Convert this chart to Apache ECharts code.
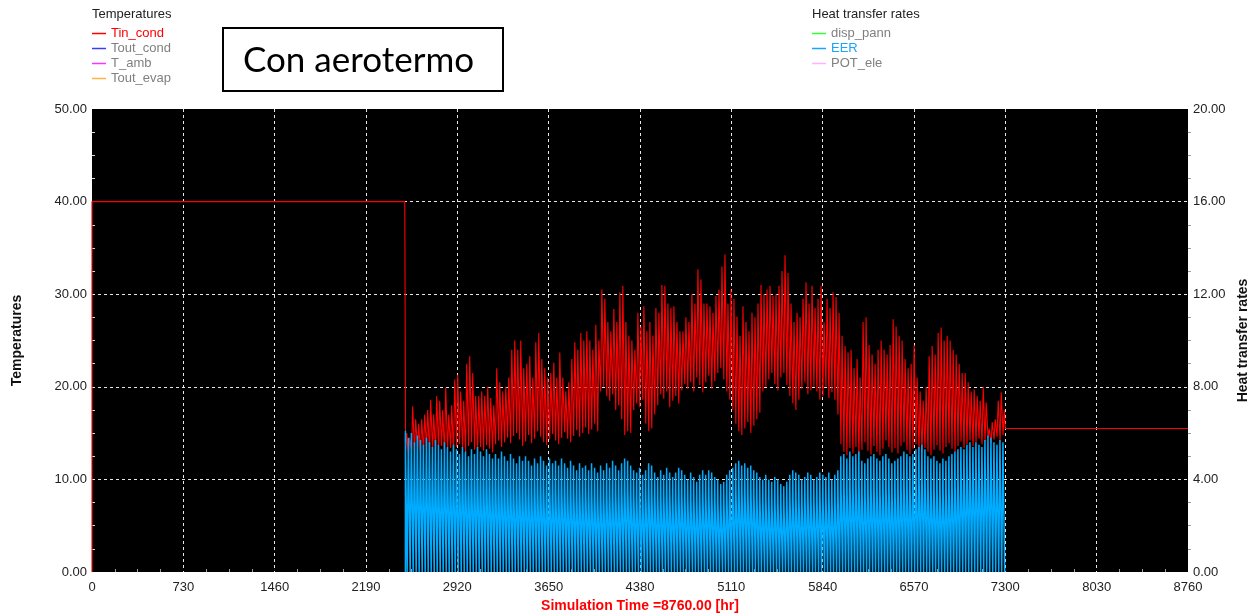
<!DOCTYPE html>
<html>
<head>
<meta charset="utf-8">
<script src="https://cdn.jsdelivr.net/npm/echarts@6/dist/echarts.min.js"></script>
<style>
  html, body { margin: 0; padding: 0; background: #ffffff; }
  #chart { width: 1254px; height: 616px; }
</style>
</head>
<body>
<div id="chart"></div>
<script>
// Simulation time axis (hours), one tick per 730 h
const timeTicks = [0, 730, 1460, 2190, 2920, 3650, 4380, 5110, 5840, 6570, 7300, 8030, 8760];

// Heating season: first operating day starts at this hour, one entry per day below
const seasonStartHour = 2500;
// Tin_cond held outside the season
const tinBeforeSeason = 40;
const tinAfterSeason = 15.5;

// Tin_cond daily maxima [°C]
const tinHigh = [
  15, 14.5, 17.9, 16.5, 16, 16.5, 17, 17.5, 18.6, 17,
  19, 18.5, 17.5, 19.9, 17, 18, 20.8, 21.3, 19.5, 18.5,
  22.5, 23.3, 21.5, 19, 19, 19.5, 19, 20, 18.8, 18,
  22, 20.5, 19.5, 20, 21, 24, 25, 24, 25, 22,
  22.5, 23.3, 21, 24.8, 25.8, 23, 22, 21, 21.5, 22.6,
  21, 23.7, 21, 19.5, 20.5, 23, 24.8, 24, 25.8, 25,
  26, 25, 24, 26.7, 25, 30.5, 29.5, 27, 26, 28.4,
  27, 30.2, 30.9, 27, 25.5, 25, 24, 28, 26.5, 28.7,
  26, 27, 25.5, 28.5, 28, 31, 30.9, 29, 28.5, 28.7,
  27, 26, 26, 27.5, 27, 30, 29, 32.7, 31.6, 29,
  29, 28.7, 28, 29.8, 30.5, 33, 34.3, 29, 30.5, 29.5,
  27.6, 25.5, 28.7, 27, 26, 28, 27.5, 29, 31, 30,
  30.5, 30.9, 29.8, 30, 30.9, 32.5, 34.2, 32.3, 29, 27,
  28, 27.5, 29.5, 31.3, 29, 30.9, 28.5, 29.5, 30.9, 27,
  29.5, 28.5, 30.2, 29.7, 28, 25.5, 24.4, 23.7, 24, 22,
  23, 21, 27, 27.5, 24.5, 23.5, 22.5, 24, 25, 24,
  23.5, 24.5, 27.3, 26.5, 25.5, 25, 23, 22, 22.5, 24.5,
  21, 19.5, 18.5, 20, 23.3, 24.4, 23.5, 25.8, 26.4, 25,
  25.5, 25, 24, 23.5, 22.5, 21.5, 21.5, 20.5, 19.5, 19.7,
  19, 18.5, 20, 18.3, 15.5, 16.2, 16.5, 18.5, 19.4, 17.5
];

// Tin_cond daily minima [°C]
const tinLow = [
  13, 12.5, 13, 12.8, 13.2, 12.6, 13, 13.4, 12.8, 13.1,
  12.9, 13.3, 13.6, 12.7, 13, 13.4, 12.8, 13.5, 13.8, 13.1,
  12.9, 13.6, 14, 13.2, 12.8, 13.5, 13.1, 13.7, 13.3, 12.9,
  13.8, 14.2, 13.5, 14, 14.5, 13.9, 14.7, 15, 14.3, 13.6,
  14.1, 14.8, 13.9, 14.4, 15.2, 14.6, 14, 13.7, 14.3, 14.9,
  14.2, 13.8, 14.5, 15.1, 14.4, 14, 14.7, 15.3, 14.6, 15,
  15.6, 14.9, 15.4, 16, 15.2, 19.5, 20, 19, 18.5, 19.2,
  17.5, 18, 16.5, 14.8, 15.2, 15, 17.5, 18.2, 17.8, 18.6,
  16, 15.2, 15.5, 17, 18, 19.2, 18.7, 19.5, 17.8, 18.5,
  19, 18.2, 19.6, 20.3, 19.8, 20.5, 19.5, 21, 20.2, 19.4,
  20.5, 21.2, 19.8, 20.6, 21.5, 22, 20.8, 19.5, 18.6, 17.5,
  16, 15.2, 14.8, 15.5, 16.2, 15, 15.8, 16.5, 17.2, 19.5,
  20, 20.8, 21.5, 20.3, 19.6, 21, 21.5, 20.2, 19, 18.2,
  17.5, 18.6, 19.8, 20.5, 19.2, 19.6, 20, 19.5, 18.6, 19,
  20, 18.8, 19.4, 18.6, 17, 13.8, 13, 12.6, 13.4, 12.8,
  13.5, 12.5, 13.2, 14, 13.1, 12.7, 13.6, 13, 12.6, 13.3,
  14.2, 13.5, 12.9, 13.4, 12.8, 13.6, 14, 13.2, 12.7, 13.3,
  13.8, 13.1, 12.9, 13.4, 13, 12.6, 13.2, 13.7, 13.1, 12.8,
  13.5, 13.9, 13.3, 13, 13.6, 14.1, 13.4, 13.8, 14.2, 13.6,
  14, 14.4, 13.8, 14.1, 14.5, 13.9, 14.3, 14.6, 14.2, 14.8
];

// EER start-up peak of each day
const eerPeak = [
  6.1, 5.8, 6.0, 5.6, 5.9, 5.7, 5.5, 5.8, 5.6, 5.4,
  5.7, 5.5, 5.3, 5.6, 5.4, 5.2, 5.5, 5.3, 5.1, 5.4,
  5.2, 5.0, 5.3, 5.1, 5.4, 5.2, 5.0, 5.3, 5.1, 4.9,
  5.1, 4.9, 5.2, 5.0, 4.8, 5.1, 4.9, 4.7, 5.0, 4.8,
  5.0, 4.8, 4.6, 4.9, 4.7, 5.0, 4.8, 4.6, 4.9, 4.7,
  4.8, 4.6, 4.9, 4.7, 4.5, 4.8, 4.6, 4.4, 4.7, 4.5,
  4.6, 4.4, 4.7, 4.5, 4.3, 4.6, 4.4, 4.7, 4.5, 4.8,
  4.6, 4.4, 4.7, 4.9, 4.8, 4.6, 4.4, 4.3, 4.5, 4.2,
  4.4, 4.7, 4.6, 4.3, 4.1, 4.4, 4.2, 4.5, 4.3, 4.1,
  4.3, 4.5, 4.4, 4.2, 4.0, 4.3, 4.1, 3.9, 4.2, 4.4,
  4.2, 4.4, 4.3, 4.1, 4.0, 3.8, 3.9, 4.2, 4.4, 4.5,
  4.7, 4.8, 4.6, 4.7, 4.5, 4.6, 4.4, 4.3, 4.1, 4.0,
  4.2, 4.0, 3.9, 4.1, 4.0, 3.8, 3.7, 3.9, 4.2, 4.4,
  4.3, 4.2, 4.0, 4.1, 4.3, 4.2, 4.0, 4.1, 4.3, 4.2,
  4.1, 4.3, 4.0, 4.2, 4.4, 5.0, 5.1, 4.9, 5.2, 5.0,
  5.1, 5.2, 4.8, 4.7, 4.9, 5.0, 5.1, 4.9, 4.8, 5.0,
  5.1, 4.9, 4.7, 4.8, 4.9, 5.0, 5.2, 5.1, 5.0, 5.1,
  5.3, 5.4, 5.5, 5.3, 5.0, 4.9, 5.0, 4.8, 4.7, 4.9,
  4.8, 5.0, 5.1, 5.2, 5.3, 5.4, 5.3, 5.5, 5.6, 5.4,
  5.6, 5.5, 5.4, 5.7, 5.9, 5.8, 5.6, 5.5, 5.7, 5.6
];

// EER steady running level of each day
const eerLevel = [
  4.7, 4.6, 4.7, 4.5, 4.6, 4.5, 4.4, 4.6, 4.5, 4.3,
  4.4, 4.3, 4.2, 4.4, 4.3, 4.2, 4.3, 4.1, 4.2, 4.3,
  4.1, 4.0, 4.2, 4.1, 4.2, 4.0, 4.1, 4.2, 4.0, 3.9,
  4.0, 3.9, 4.0, 3.8, 3.9, 3.9, 3.7, 3.8, 3.9, 3.7,
  3.8, 3.7, 3.6, 3.8, 3.7, 3.8, 3.6, 3.5, 3.7, 3.6,
  3.6, 3.5, 3.7, 3.6, 3.4, 3.6, 3.5, 3.4, 3.5, 3.4,
  3.5, 3.3, 3.4, 3.3, 3.2, 3.3, 3.2, 3.4, 3.3, 3.3,
  3.4, 3.3, 3.5, 3.6, 3.6, 3.5, 3.3, 3.2, 3.4, 3.2,
  3.3, 3.5, 3.4, 3.3, 3.2, 3.3, 3.2, 3.4, 3.3, 3.1,
  3.2, 3.4, 3.3, 3.2, 3.1, 3.2, 3.1, 3.0, 3.1, 3.3,
  3.2, 3.3, 3.2, 3.1, 3.0, 2.9, 3.0, 3.2, 3.3, 3.4,
  3.5, 3.6, 3.5, 3.5, 3.4, 3.5, 3.3, 3.2, 3.1, 3.0,
  3.1, 3.0, 2.9, 3.0, 3.0, 2.9, 2.8, 2.9, 3.1, 3.2,
  3.2, 3.1, 3.0, 3.1, 3.2, 3.1, 3.0, 3.1, 3.2, 3.1,
  3.1, 3.2, 3.0, 3.1, 3.3, 3.6, 3.7, 3.5, 3.7, 3.6,
  3.7, 3.7, 3.4, 3.4, 3.5, 3.6, 3.6, 3.5, 3.4, 3.5,
  3.6, 3.5, 3.3, 3.4, 3.5, 3.6, 3.7, 3.6, 3.5, 3.6,
  3.8, 3.9, 4.0, 3.8, 3.6, 3.5, 3.5, 3.4, 3.3, 3.4,
  3.4, 3.5, 3.6, 3.7, 3.8, 4.2, 4.2, 4.3, 4.4, 4.3,
  4.4, 4.4, 4.3, 4.5, 4.7, 4.6, 4.5, 4.4, 4.6, 4.5
];

// Hour-of-day at which each daily value is reached
const HOURS_PER_DAY = 24;
const tinLowAt = 6, tinHighAt = 15;
const eerOnAt = 5, eerSettleAt = 7, eerOffAt = 19;

// Tin_cond time series
const tinSeries = [[0, 0], [0, tinBeforeSeason], [seasonStartHour, tinBeforeSeason]];
tinLow.forEach((lo, d) => {
  const t = seasonStartHour + d * HOURS_PER_DAY;
  tinSeries.push([t + tinLowAt, lo], [t + tinHighAt, tinHigh[d]]);
});
const seasonEndHour = seasonStartHour + tinLow.length * HOURS_PER_DAY;
tinSeries.push([seasonEndHour, tinAfterSeason], [8760, tinAfterSeason]);

// EER time series (zero while the unit is off)
const eerSeries = [];
eerPeak.forEach((pk, d) => {
  const t = seasonStartHour + d * HOURS_PER_DAY;
  eerSeries.push([t + eerOnAt, 0], [t + eerOnAt, pk], [t + eerSettleAt, eerLevel[d]],
                 [t + eerOffAt, eerLevel[d]], [t + eerOffAt, 0]);
});

const FONT = 'Liberation Sans, Arial, sans-serif';
const fixed2 = v => v.toFixed(2);

const chart = echarts.init(document.getElementById('chart'), null, { renderer: 'canvas' });

chart.setOption({
  animation: false,
  backgroundColor: '#ffffff',
  title: [
    { text: 'Temperatures', left: 92, top: 8, padding: 0,
      textStyle: { fontFamily: FONT, fontSize: 13, fontWeight: 'normal', color: '#222222' } },
    { text: 'Heat transfer rates', left: 812, top: 8, padding: 0,
      textStyle: { fontFamily: FONT, fontSize: 13, fontWeight: 'normal', color: '#222222' } }
  ],
  legend: [
    {
      orient: 'vertical', left: 92, top: 27, padding: 0,
      icon: 'rect', itemWidth: 14, itemHeight: 1.5, itemGap: 2,
      selectedMode: false,
      textStyle: { fontFamily: FONT, fontSize: 13, color: '#808080' },
      data: [
        { name: 'Tin_cond', textStyle: { color: '#ff0000' } },
        'Tout_cond', 'T_amb', 'Tout_evap'
      ]
    },
    {
      orient: 'vertical', left: 812, top: 27, padding: 0,
      icon: 'rect', itemWidth: 14, itemHeight: 1.5, itemGap: 2,
      selectedMode: false,
      textStyle: { fontFamily: FONT, fontSize: 13, color: '#808080' },
      data: [
        'disp_pann',
        { name: 'EER', textStyle: { color: '#1aa3ff' } },
        'POT_ele'
      ]
    }
  ],
  grid: {
    left: 92, right: 66, top: 109, bottom: 44,
    outerBoundsMode: 'none', containLabel: false,
    show: true, backgroundColor: '#000000', borderWidth: 0
  },
  xAxis: {
    type: 'value', min: timeTicks[0], max: timeTicks[timeTicks.length - 1], interval: 730,
    name: 'Simulation Time =8760.00 [hr]', nameLocation: 'middle', nameGap: 26,
    nameTextStyle: { fontFamily: FONT, fontSize: 14, fontWeight: 'bold', color: '#ff0000' },
    axisLine: { show: false },
    axisTick: { show: false, inside: true },
    minorTick: { show: true, splitNumber: 4, length: 3, lineStyle: { color: '#9a9a9a' } },
    axisLabel: { fontFamily: FONT, fontSize: 13, color: '#222222', margin: 9, formatter: v => String(v) },
    splitLine: { show: true, showMinLine: false, showMaxLine: false,
                 lineStyle: { color: '#e8e8e8', type: [3, 3], width: 1 } }
  },
  yAxis: [
    {
      type: 'value', min: 0, max: 50, interval: 10, position: 'left',
      name: 'Temperatures', nameLocation: 'middle', nameGap: 68, nameRotate: 90,
      nameTextStyle: { fontFamily: FONT, fontSize: 14, fontWeight: 'bold', color: '#111111' },
      axisLine: { show: false },
      axisTick: { show: false, inside: true },
      minorTick: { show: true, splitNumber: 4, length: 3, lineStyle: { color: '#dddddd' } },
      axisLabel: { fontFamily: FONT, fontSize: 13, color: '#222222', margin: 5, formatter: fixed2 },
      splitLine: { show: true, showMinLine: false, showMaxLine: false,
                   lineStyle: { color: '#e8e8e8', type: [3, 3], width: 1 } }
    },
    {
      type: 'value', min: 0, max: 20, interval: 4, position: 'right',
      name: 'Heat transfer rates', nameLocation: 'middle', nameGap: 44, nameRotate: 90,
      nameTextStyle: { fontFamily: FONT, fontSize: 14, fontWeight: 'bold', color: '#111111' },
      axisLine: { show: false },
      axisTick: { show: false },
      minorTick: { show: true, splitNumber: 4, length: 3, lineStyle: { color: '#9a9a9a' } },
      axisLabel: { fontFamily: FONT, fontSize: 13, color: '#222222', margin: 5, formatter: fixed2 },
      splitLine: { show: false }
    }
  ],
  series: [
    { name: 'Tin_cond', type: 'line', yAxisIndex: 0, data: tinSeries, showSymbol: false, symbol: 'none',
      clip: false, color: '#ff0000', lineStyle: { width: 1.1, color: '#ff0000' }, z: 2 },
    { name: 'Tout_cond', type: 'line', yAxisIndex: 0, data: [], symbol: 'none', color: '#3b3bff' },
    { name: 'T_amb', type: 'line', yAxisIndex: 0, data: [], symbol: 'none', color: '#ff33ff' },
    { name: 'Tout_evap', type: 'line', yAxisIndex: 0, data: [], symbol: 'none', color: '#ffb347' },
    { name: 'disp_pann', type: 'line', yAxisIndex: 1, data: [], symbol: 'none', color: '#33ff33' },
    { name: 'EER', type: 'line', yAxisIndex: 1, data: eerSeries, showSymbol: false, symbol: 'none',
      color: '#1aa3ff', lineStyle: { width: 1.5, color: '#00acff' }, z: 3 },
    { name: 'POT_ele', type: 'line', yAxisIndex: 1, data: [], symbol: 'none', color: '#ffb3ff' }
  ],
  graphic: [
    {
      type: 'group', left: 222, top: 27,
      children: [
        { type: 'rect', shape: { x: 1, y: 1, width: 280, height: 63 },
          style: { fill: '#ffffff', stroke: '#000000', lineWidth: 2 } },
        { type: 'text', x: 136.5, y: 34,
          style: { text: 'Con aerotermo', fill: '#000000', fontFamily: 'Lato, Open Sans, sans-serif',
                   fontSize: 35, align: 'center', verticalAlign: 'middle' } }
      ]
    }
  ]
});
</script>
</body>
</html>
